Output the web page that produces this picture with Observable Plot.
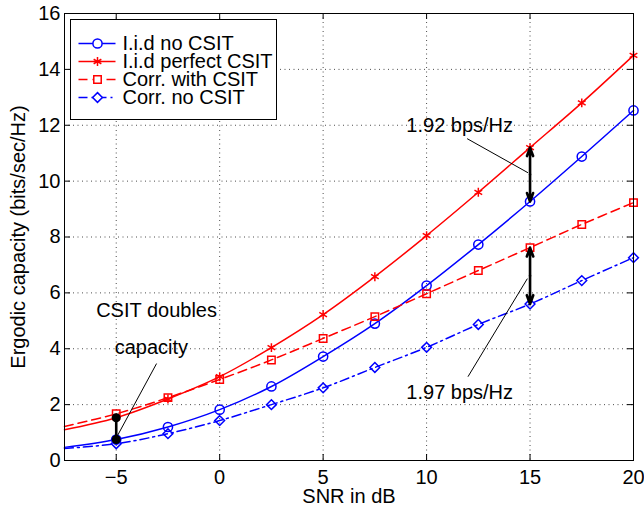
<!DOCTYPE html>
<html><head><meta charset="utf-8">
<script src="https://cdn.jsdelivr.net/npm/d3@7"></script>
<script src="https://cdn.jsdelivr.net/npm/@observablehq/plot@0.6"></script>
<style>
html,body{margin:0;padding:0;background:#fff;}
#wrap{position:relative;width:644px;height:508px;font-family:"Liberation Sans",Arial,Helvetica,sans-serif;}
#legend{position:absolute;left:70px;top:19px;width:205px;height:99px;border:1px solid #000;background:#fff;}
svg{overflow:visible;}
</style></head><body>
<div id="wrap"><div id="chart"></div><div id="legend"></div></div>
<script>
// ---- data ----
const snr            = [-7.5, -5, -2.5, 0, 2.5, 5, 7.5, 10, 12.5, 15, 17.5, 20];
const iidNoCSIT      = [0.47, 0.75, 1.20, 1.82, 2.65, 3.72, 4.90, 6.26, 7.73, 9.27, 10.88, 12.53];
const iidPerfectCSIT = [1.10, 1.53, 2.20, 3.00, 4.04, 5.22, 6.58, 8.05, 9.60, 11.20, 12.80, 14.50];
const corrWithCSIT   = [1.22, 1.67, 2.25, 2.90, 3.60, 4.37, 5.15, 5.97, 6.80, 7.62, 8.45, 9.23];
const corrNoCSIT     = [0.43, 0.60, 0.96, 1.43, 2.00, 2.60, 3.33, 4.05, 4.87, 5.60, 6.44, 7.26];
const seriesNames    = ["I.i.d no CSIT", "I.i.d perfect CSIT", "Corr. with CSIT", "Corr. no CSIT"];
const xTicks = [-5, 0, 5, 10, 15, 20];
const yTicks = [0, 2, 4, 6, 8, 10, 12, 14, 16];
const xLabel = "SNR in dB";
const yLabel = "Ergodic capacity (bits/sec/Hz)";
// annotation text & leader lines (data units)
const labels = [
  {text: "1.92 bps/Hz", x: 11.6, y: 12.0},
  {text: "1.97 bps/Hz", x: 11.6, y: 2.43},
  {text: "CSIT doubles", x: -3.05, y: 5.37},
  {text: "capacity", x: -3.3, y: 4.05}
];
const leaders = [
  {x1: 11.96, y1: 11.52, x2: 14.9, y2: 10.3},
  {x1: 12.0, y1: 3.0, x2: 14.87, y2: 6.51},
  {x1: -3.05, y1: 3.47, x2: -4.99, y2: 0.82}
];

// ---- styles ----
const styles = [
  {values: iidNoCSIT, color: "#0000ff", dash: null, symbol: "circle", r: 4.6},
  {values: iidPerfectCSIT, color: "#ff0000", dash: null, symbol: "asterisk", r: 4.2},
  {values: corrWithCSIT, color: "#ff0000", dash: "9,5", symbol: "square", r: 4.2},
  {values: corrNoCSIT, color: "#0000ff", dash: "9,4,2,4", symbol: "diamond2", r: 4.4}
];
const rows = [];
styles.forEach((s, k) => s.values.forEach((v, i) => rows.push({series: seriesNames[k], snr: snr[i], value: v, k})));

const W = 644, H = 508, mL = 64, mR = 11, mT = 13, mB = 48;
const fw = W - mL - mR, fh = H - mT - mB;
const gridStyle = {stroke: "#000", strokeOpacity: 0.7, strokeDasharray: "1,3.5", strokeWidth: 1};

const at = (arr, x) => arr[snr.indexOf(x)];
const arrowPairs = [
  [at(iidPerfectCSIT, 15), at(iidNoCSIT, 15)],
  [at(corrWithCSIT, 15), at(corrNoCSIT, 15)]
];
const arrows = [];
arrowPairs.forEach(([a, b]) => {
  const m = (a + b) / 2;
  arrows.push({x1: 15, y1: m, x2: 15, y2: a});
  arrows.push({x1: 15, y1: m, x2: 15, y2: b});
});
const capPair = [{x: -5, y: at(iidPerfectCSIT, -5)}, {x: -5, y: at(iidNoCSIT, -5)}];

const marks = [
  Plot.ruleX(xTicks.filter(d => d < 20), gridStyle),
  Plot.ruleY(yTicks.filter(d => d > 0 && d < 16), gridStyle),
];
styles.forEach((s, k) => {
  const data = rows.filter(d => d.k === k);
  marks.push(Plot.line(data, {x: "snr", y: "value", stroke: s.color, strokeWidth: 1.5,
    strokeDasharray: s.dash, curve: "catmull-rom"}));
});
styles.forEach((s, k) => {
  const data = rows.filter(d => d.k === k && d.snr >= -5);
  marks.push(Plot.dot(data, {x: "snr", y: "value", stroke: s.color, fill: s.symbol === "asterisk" ? s.color : "white",
    fillOpacity: s.symbol === "asterisk" ? 1 : 0, strokeWidth: 1.5, symbol: s.symbol, r: s.r}));
});
marks.push(
  Plot.arrow(arrows, {x1: "x1", y1: "y1", x2: "x2", y2: "y2", stroke: "#000", strokeWidth: 2.6, headLength: 14, headAngle: 40}),
  Plot.link([capPair], {x1: d => d[0].x, y1: d => d[0].y, x2: d => d[1].x, y2: d => d[1].y, stroke: "#000", strokeWidth: 2.6}),
  Plot.dot(capPair, {x: "x", y: "y", r: 4.5, fill: "#000"}),
  Plot.link(leaders, {x1: "x1", y1: "y1", x2: "x2", y2: "y2", stroke: "#000", strokeWidth: 1}),
  Plot.text(labels, {x: "x", y: "y", text: "text", fontSize: 20, fill: "#000", textAnchor: "middle", lineAnchor: "middle"}),
  // inward ticks
  Plot.ruleX(xTicks, {insetTop: fh - 6, stroke: "#000"}),
  Plot.ruleX(xTicks, {insetBottom: fh - 6, stroke: "#000"}),
  Plot.ruleY(yTicks, {insetRight: fw - 6, stroke: "#000"}),
  Plot.ruleY(yTicks, {insetLeft: fw - 6, stroke: "#000"}),
  Plot.frame({stroke: "#000", strokeWidth: 1}),
  Plot.axisX({ticks: xTicks, tickSize: 0, tickPadding: 9, fontSize: 20, label: null}),
  Plot.axisY({ticks: yTicks, tickSize: 0, tickPadding: 4, fontSize: 20, label: null}),
  Plot.text([xLabel], {frameAnchor: "bottom", dy: 36, fontSize: 20, fill: "#000", textAnchor: "middle", lineAnchor: "middle", text: d => d}),
  Plot.text([yLabel], {frameAnchor: "left", dx: -46, rotate: -90, fontSize: 20, fill: "#000", textAnchor: "middle", lineAnchor: "middle", text: d => d})
);

const chart = Plot.plot({
  width: W, height: H, marginLeft: mL, marginRight: mR, marginTop: mT, marginBottom: mB,
  style: {fontFamily: "'Liberation Sans', Arial, Helvetica, sans-serif", fontSize: "20px", color: "#000", background: "#fff"},
  x: {domain: [-7.5, 20]},
  y: {domain: [0, 16]},
  marks
});
document.getElementById("chart").append(chart);

// ---- legend ----
const legRows = seriesNames.map((name, k) => ({name, k}));
const leg = Plot.plot({
  width: 205, height: 99, margin: 0,
  style: {fontFamily: "'Liberation Sans', Arial, Helvetica, sans-serif", fontSize: "20px", color: "#000", background: "#fff"},
  x: {type: "identity", axis: null},
  y: {type: "point", domain: seriesNames, range: [13, 86], axis: null},
  marks: [
    ...styles.map((s, k) => Plot.link([legRows[k]], {x1: 7, x2: 44, y1: d => d.name, y2: d => d.name,
      stroke: s.color, strokeWidth: 1.5, strokeDasharray: s.dash})),
    ...styles.map((s, k) => Plot.dot([legRows[k]], {x: 26, y: d => d.name, stroke: s.color,
      fill: s.symbol === "asterisk" ? s.color : "white", strokeWidth: 1.5, symbol: s.symbol, r: s.r})),
    Plot.text(legRows, {x: 51, y: d => d.name, text: d => d.name, textAnchor: "start", fontSize: 20, fill: "#000", lineAnchor: "middle"})
  ]
});
document.getElementById("legend").append(leg);
</script></body></html>
